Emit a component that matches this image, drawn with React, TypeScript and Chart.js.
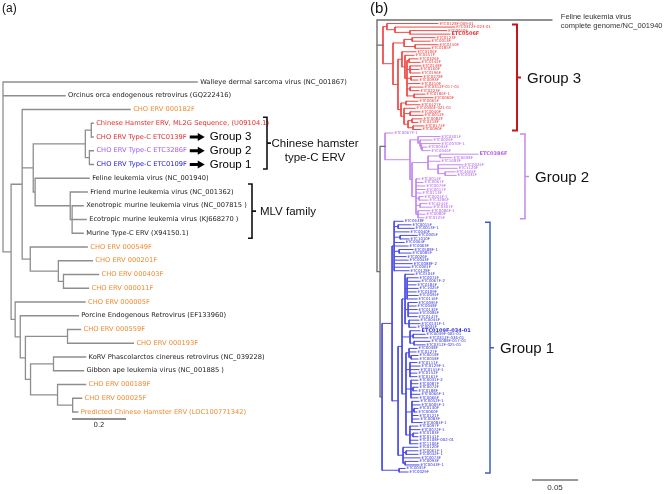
import React, { useEffect, useRef } from "react";
import { Chart, registerables } from "chart.js";
Chart.register(...registerables);

// ---------------- Panel (a) data ----------------
const labelsA = [
  "Walleye dermal sarcoma virus (NC_001867)",
  "Orcinus orca endogenous retrovirus (GQ222416)",
  "CHO ERV 000182F",
  "Chinese Hamster ERV, ML2G Sequence, (U09104.1)",
  "CHO ERV Type-C ETC0139F",
  "CHO ERV Type-C ETC3286F",
  "CHO ERV Type-C ETC0109F",
  "Feline leukemia virus (NC_001940)",
  "Friend murine leukemia virus (NC_001362)",
  "Xenotropic murine leukemia virus (NC_007815 )",
  "Ecotropic murine leukemia virus (KJ668270 )",
  "Murine Type-C ERV (X94150.1)",
  "CHO ERV 000549F",
  "CHO ERV 000201F",
  "CHO ERV 000403F",
  "CHO ERV 000011F",
  "CHO ERV 000005F",
  "Porcine Endogenous Retrovirus (EF133960)",
  "CHO ERV 000559F",
  "CHO ERV 000193F",
  "KoRV Phascolarctos cinereus retrovirus (NC_039228)",
  "Gibbon ape leukemia virus (NC_001885 )",
  "CHO ERV 000189F",
  "CHO ERV 000025F",
  "Predicted Chinese Hamster ERV (LOC100771342)",
];
const kindsA = ["ref", "ref", "cho", "g3", "g3", "g2", "g1", "ref", "ref", "ref", "ref", "ref", "cho", "cho", "cho", "cho", "cho", "ref", "cho", "cho", "ref", "ref", "cho", "cho", "cho"];
// tree of panel (a), leaves a0..a24 refer to labelsA
const newickA =
  "(a0:0.719,a1:0.230,((a2:0.400,(((a3:0.007,a4:0.007):0.022,(a5:0.015,a6:0.015):0.015):0.193,(a7:0.200,(a8:0.063,(a9:0.041,a10:0.052,a11:0.041):0.007):0.130):0.007):0.041,(a12:0.211,(a13:0.126,(a14:0.130,a15:0.093):0.019):0.104):0.030):0.041,(a16:0.259,(a17:0.215,((a18:0.048,a19:0.244):0.156,((a20:0.119,a21:0.111):0.085,(a22:0.104,(a23:0.033,a24:0.019):0.056):0.100):0.019):0.019):0.019):0.015):0.030);";
const arrowLeavesA = [4, 5, 6];
const arrowTextsA = ["Group 3", "Group 2", "Group 1"];
const cladeTextA = ["Chinese hamster", "type-C ERV"];
const mlvTextA = "MLV family";
const scaleA = 0.2;

// ---------------- Panel (b) data ----------------
const felineB = ["Feline leukemia virus", "complete genome/NC_001940"];
const felineLenB = 0.19;
const stemG3 = 0.0065;
const stemG12 = 0.0033;
const stemG2 = 0.0054;
const stemG1 = 0.0022;
const newickG3 =
  "((ETC0128F-009-01:0.0554,(ETC0312F-023-01:0.065,(ETC0050F:0.040,ETC0506F:0.0435):0.0163):0.0087):0.0043,(((ETC0123F:0.025,ETC0013F:0.0196):0.0087,(ETC0150F:0.025,ETC0185F:0.0163):0.012):0.012,((ETC0106F:0.0152,(ETC0457F:0.0098,((ETC0326F:0.0098,ETC0142F:0.012):0.0022,(ETC0148F:0.012,ETC0160F:0.0098,ETC0196F:0.0109):0.0033,(ETC0278F:0.012,ETC0093F:0.0076):0.0043,ETC0210F:0.0141,(ETC0312F-017-01:0.0141,ETC0223F:0.0098):0.0033,(ETC0186F-1:0.012,ETC0060F:0.0207):0.0076):0.0022):0.0033):0.0043,((ETC0065F:0.013,ETC0427F:0.0152):0.0054,(ETC0036F-021-01:0.012,(ETC0040F:0.0109,ETC0012F:0.0141):0.0065,((ETC0082F:0.0109,ETC0218F:0.0065):0.0043,(ETC0174F:0.012,ETC0090F:0.0087):0.0054):0.0043):0.0033):0.0033):0.0054):0.0109)";
const newickG2 =
  "(ETC0067F-1:0.0087,((ETC0301F:0.0239,(ETC0026F:0.013,(ETC0070F-1:0.0207,(ETC0034F:0.0054,ETC0046F:0.0087):0.0011):0.0011):0.0022):0.0087,(((ETC0386F:0.0413,ETC0698F:0.013):0.013,ETC1683F:0.013,(ETC0024F:0.0272,ETC1120F:0.0207,(ETC4604F:0.0109,ETC0031F:0.012):0.0076):0.0109):0.0174,(ETC0014F:0.0043,ETC0067F:0.0076,ETC0079F:0.0098,ETC0017F:0.0098,ETC0113F:0.0054,(ETC0024F-1:0.0043,ETC3286F:0.0098):0.0033,(ETC4244F:0.0076,ETC0307F:0.013):0.0043,(ETC0086F-1:0.013,ETC0080F:0.0076,ETC0125F:0.0065):0.0022):0.0043):0.0022):0.0272)";
const newickG1 =
  "((((ETC0638F:0.0098,(ETC0015F:0.0141,ETC0013F-1:0.0174):0.0043,ETC0040F:0.0163,(ETC0005F:0.0185,ETC1010F:0.0098):0.0065,ETC0064F:0.0109,ETC0063F:0.0152,(ETC0588F-1:0.0152,ETC0085F:0.013):0.0054,ETC0026F:0.013,ETC0043F:0.0152,ETC0088F-2:0.0196,ETC0061F:0.0174,ETC0128F:0.0163):0.0022," +
  "(((ETC0104F:0.0098,(ETC0074F:0.012,ETC0067F-2:0.0141,ETC0184F:0.0098,ETC1025F:0.012,ETC0109F:0.0098,ETC0094F:0.012,ETC0116F:0.0109):0.0022,(ETC0095F:0.0098,ETC0048F:0.0087,ETC0132F:0.0098,ETC0084F:0.0109,ETC0147F:0.0098):0.0033,(ETC0044F:0.0109,ETC0131F-1:0.012,ETC0034F:0.0076):0.0043):0.0033," +
  "(ETC0109F-034-01:0.0109,(ETC0039F-005-01:0.013,ETC0312F-036-01:0.0163):0.0033,(ETC0088F-017-01:0.0174,ETC0312F-025-01:0.012):0.0043):0.0087," +
  "((ETC0038F:0.0087,ETC0127F:0.0076,(ETC0018F:0.0076,ETC0058F:0.0076):0.0022):0.0033,(ETC0111F:0.0076,ETC0129F-1:0.0109,ETC0155F-1:0.0098,ETC0152F:0.0076,ETC0161F:0.0076):0.0043,(ETC0031F-2:0.0076,ETC0087F:0.0076,(ETC0072F:0.0054,ETC0188F:0.0043):0.0022,ETC0066F-1:0.0098,ETC0066F:0.0076):0.0054,(ETC0052F-1:0.0076,ETC0005F-1:0.0087,(ETC0130F:0.0043,ETC0060F:0.0033):0.0022,ETC0121F:0.0065,ETC0083F:0.0076,ETC0084F-1:0.0109):0.0065,(ETC0097F:0.0087,ETC0072F-1:0.0109,(ETC0183F:0.0054,ETC0141F:0.0054):0.0033,ETC0108F-002-01:0.0087,ETC1106F:0.0087):0.0043):0.0043):0.0043," +
  "(ETC0120F:0.0163,(ETC0061F-1:0.013,ETC0042F-1:0.013):0.0033,ETC0073F:0.0185,(ETC0093F:0.0141,ETC0043F-1:0.0152):0.0022):0.0054):0.0065):0.0109,(ETC0035F:0.0065,ETC0029F:0.0098):0.0185)";
const boldB = ["ETC0506F", "ETC0386F", "ETC0109F-034-01"];
const groupTextsB = ["Group 3", "Group 2", "Group 1"];
const scaleB = 0.05;

// ---------------- tree helpers ----------------
type TNode = { name: string; len: number; children: TNode[]; x?: number; y?: number; color?: string };

function parseNewick(s: string): TNode {
  let i = 0;
  function node(): TNode {
    const n: TNode = { name: "", len: 0, children: [] };
    if (s[i] === "(") {
      i++;
      n.children.push(node());
      while (s[i] === ",") {
        i++;
        n.children.push(node());
      }
      i++;
    }
    let name = "";
    while (i < s.length && !",():;".includes(s[i])) name += s[i++];
    n.name = name.trim();
    if (s[i] === ":") {
      i++;
      let num = "";
      while (i < s.length && !",();".includes(s[i])) num += s[i++];
      n.len = parseFloat(num);
    }
    return n;
  }
  return node();
}

function layout(root: TNode): TNode[] {
  const leaves: TNode[] = [];
  function walk(n: TNode, x: number) {
    n.x = x;
    if (!n.children.length) {
      n.y = leaves.length;
      leaves.push(n);
      return;
    }
    n.children.forEach((c) => walk(c, x + c.len));
    n.y = (n.children[0].y! + n.children[n.children.length - 1].y!) / 2;
  }
  walk(root, 0);
  return leaves;
}

function leavesOf(n: TNode): TNode[] {
  if (!n.children.length) return [n];
  return n.children.flatMap(leavesOf);
}

function segments(root: TNode, def: string) {
  const out = new Map<string, any[]>();
  const add = (c: string, x0: number, y0: number, x1: number, y1: number) => {
    if (!out.has(c)) out.set(c, []);
    out.get(c)!.push({ x: x0, y: y0 }, { x: x1, y: y1 }, { x: null, y: null });
  };
  function walk(n: TNode, inherited: string) {
    const c = n.color ?? inherited;
    if (!n.children.length) return;
    const f = n.children[0], l = n.children[n.children.length - 1];
    add(c, n.x!, f.y!, n.x!, l.y!);
    n.children.forEach((ch) => {
      add(c, n.x!, ch.y!, ch.x!, ch.y!);
      walk(ch, c);
    });
  }
  walk(root, def);
  return out;
}

// ---------------- styles ----------------
const W = 667, H = 494;
const rootPxA = 3, unitPxA = 270, firstYA = 82, stepA = 13.75;
const rootPxB = 377, unitPxB = 920, firstYB = 20, lastYB = 472;
const labelColorA: Record<string, string> = { ref: "#222222", cho: "#ee8a30", g3: "#e62a2a", g2: "#9d5cf2", g1: "#2222d8" };
const lineColorB: Record<string, string> = { root: "#6e6e6e", g3: "#ee4a46", g2: "#c38bef", g1: "#4b4be6" };
const labelColorB: Record<string, string> = { g3: "#ec3535", g2: "#b061e8", g1: "#3434dc" };
const SANS = '"Liberation Sans", Arial, sans-serif';
const SMALL = '"DejaVu Sans", sans-serif';

export default function App() {
  const ref = useRef<HTMLCanvasElement>(null);
  useEffect(() => {
    const treeA = parseNewick(newickA);
    const leavesA = layout(treeA);

    const g3 = parseNewick(newickG3); g3.len = stemG3; g3.color = "g3";
    const g2 = parseNewick(newickG2); g2.len = stemG2; g2.color = "g2";
    const g1 = parseNewick(newickG1); g1.len = stemG1; g1.color = "g1";
    const feline: TNode = { name: "feline", len: felineLenB, children: [] };
    const g12: TNode = { name: "", len: stemG12, children: [g2, g1], color: "root" };
    const treeB: TNode = { name: "", len: 0, children: [feline, g3, g12], color: "root" };
    const leavesB = layout(treeB);
    const groupsB = [g3, g2, g1].map((g) => leavesOf(g));
    const stepB = (lastYB - firstYB) / (leavesB.length - 1);

    const datasets: any[] = [];
    segments(treeA, "gray").forEach((data) => {
      datasets.push({ data, showLine: true, borderColor: "#8e8e8e", borderWidth: 1.3, pointRadius: 0, borderCapStyle: "square", xAxisID: "xa", yAxisID: "ya" });
    });
    segments(treeB, "root").forEach((data, key) => {
      datasets.push({ data, showLine: true, borderColor: lineColorB[key], borderWidth: key === "root" ? 1.4 : 1, pointRadius: 0, borderCapStyle: "square", xAxisID: "xb", yAxisID: "yb" });
    });

    const textPlugin = {
      id: "treeText",
      afterDatasetsDraw(chart: any) {
        const ctx: CanvasRenderingContext2D = chart.ctx;
        const { xa, ya, xb, yb } = chart.scales;
        ctx.save();
        ctx.textBaseline = "middle";
        ctx.textAlign = "left";
        ctx.fillStyle = "#111";
        ctx.font = `12px ${SANS}`;
        ctx.fillText("(a)", 2, 9);
        ctx.font = `15px ${SANS}`;
        ctx.fillText("(b)", 370, 9);

        // ---- panel (a) labels
        ctx.font = `6.7px ${SMALL}`;
        const labelX: number[] = [];
        leavesA.forEach((lf) => {
          const i = parseInt(lf.name.slice(1));
          const px = xa.getPixelForValue(lf.x) + 3;
          labelX[i] = px;
          ctx.fillStyle = labelColorA[kindsA[i]];
          ctx.fillText(labelsA[i], px, ya.getPixelForValue(lf.y));
        });
        const yA = (i: number) => ya.getPixelForValue(i);
        // arrows
        let endMax = 0;
        arrowLeavesA.forEach((i) => { endMax = Math.max(endMax, labelX[i] + ctx.measureText(labelsA[i]).width); });
        const ax0 = endMax + 3, ax1 = ax0 + 15;
        ctx.fillStyle = "#000";
        arrowLeavesA.forEach((i, k) => {
          const y = yA(i);
          ctx.fillRect(ax0, y - 1.5, 9, 3);
          ctx.beginPath();
          ctx.moveTo(ax0 + 8, y - 4);
          ctx.lineTo(ax1, y);
          ctx.lineTo(ax0 + 8, y + 4);
          ctx.closePath();
          ctx.fill();
          ctx.font = `11.5px ${SANS}`;
          ctx.fillText(arrowTextsA[k], ax1 + 5, y);
        });
        const bracket = (x: number, top: number, bot: number, color: string, lw: number, tl: number, tr: number) => {
          ctx.strokeStyle = color;
          ctx.lineWidth = lw;
          ctx.beginPath();
          ctx.moveTo(x - tl, top);
          ctx.lineTo(x, top);
          ctx.lineTo(x, bot);
          ctx.lineTo(x - tl, bot);
          ctx.moveTo(x, (top + bot) / 2);
          ctx.lineTo(x + tr, (top + bot) / 2);
          ctx.stroke();
          return (top + bot) / 2;
        };
        // Chinese hamster type-C bracket
        const m1 = bracket(267, yA(3) - 6, yA(6) + 4.5, "#111", 1.6, 4, 4);
        ctx.fillStyle = "#111";
        ctx.font = `11.5px ${SANS}`;
        ctx.textAlign = "center";
        ctx.fillText(cladeTextA[0], 315, m1 + 1);
        ctx.fillText(cladeTextA[1], 315, m1 + 15);
        ctx.textAlign = "left";
        // MLV bracket
        const m2 = bracket(252, yA(8) - 8, yA(11) + 5, "#111", 1.6, 4, 4);
        ctx.fillText(mlvTextA, 260, m2 + 1);
        // scale bar (a)
        const sbY = yA(leavesA.length - 1 + 0.5);
        const sbX0 = xa.getPixelForValue(0.2556), sbX1 = xa.getPixelForValue(0.2556 + scaleA);
        ctx.strokeStyle = "#8e8e8e";
        ctx.lineWidth = 2;
        ctx.beginPath();
        ctx.moveTo(sbX0, sbY);
        ctx.lineTo(sbX1, sbY);
        ctx.stroke();
        ctx.fillStyle = "#333";
        ctx.font = `7px ${SMALL}`;
        ctx.textAlign = "center";
        ctx.fillText(String(scaleA), (sbX0 + sbX1) / 2, sbY + 6);
        ctx.textAlign = "left";

        // ---- panel (b) labels
        const yB = (v: number) => yb.getPixelForValue(v);
        const fl = leavesB[0];
        const fx = xb.getPixelForValue(fl.x) + 9;
        ctx.fillStyle = "#333";
        ctx.font = `7.5px ${SANS}`;
        ctx.fillText(felineB[0], fx, yB(fl.y) - 3.5);
        ctx.fillText(felineB[1], fx, yB(fl.y) + 5.5);
        const keys = ["g3", "g2", "g1"];
        groupsB.forEach((lvs, gi) => {
          ctx.fillStyle = labelColorB[keys[gi]];
          lvs.forEach((lf) => {
            const bold = boldB.includes(lf.name);
            ctx.font = bold ? `bold 5px ${SMALL}` : `3.9px ${SMALL}`;
            ctx.fillText(lf.name, xb.getPixelForValue(lf.x) + 1.5, yB(lf.y));
          });
        });
        const bx = [517, 525, 490];
        const bc = ["#c4161c", "#c58be6", "#3c5fc4"];
        const bw = [2, 1.5, 1.5];
        groupsB.forEach((lvs, gi) => {
          const top = yB(lvs[0].y!) + 1;
          const bot = yB(lvs[lvs.length - 1].y!) + 1;
          const m = bracket(bx[gi], top, bot, bc[gi], bw[gi], 5, 4);
          ctx.fillStyle = "#111";
          ctx.font = `15px ${SANS}`;
          ctx.fillText(groupTextsB[gi], bx[gi] + 10, m + 1);
        });
        // scale bar (b)
        const sY = yB(leavesB.length - 1) + 8;
        const s0 = xb.getPixelForValue(0.1685), s1 = xb.getPixelForValue(0.1685 + scaleB);
        ctx.strokeStyle = "#333";
        ctx.lineWidth = 1;
        ctx.beginPath();
        ctx.moveTo(s0, sY);
        ctx.lineTo(s1, sY);
        ctx.stroke();
        ctx.fillStyle = "#333";
        ctx.font = `8px ${SANS}`;
        ctx.textAlign = "center";
        ctx.fillText(String(scaleB), (s0 + s1) / 2, sY + 8);
        ctx.restore();
      },
    };

    const chart = new Chart(ref.current!, {
      type: "scatter",
      data: { datasets },
      options: {
        animation: false,
        responsive: true,
        maintainAspectRatio: false,
        events: [],
        layout: { padding: 0 },
        plugins: { legend: { display: false }, tooltip: { enabled: false } },
        scales: {
          xa: { type: "linear", axis: "x", display: false, min: -rootPxA / unitPxA, max: (W - rootPxA) / unitPxA },
          ya: { type: "linear", axis: "y", display: false, reverse: true, min: -firstYA / stepA, max: (H - firstYA) / stepA },
          xb: { type: "linear", axis: "x", display: false, min: -rootPxB / unitPxB, max: (W - rootPxB) / unitPxB },
          yb: { type: "linear", axis: "y", display: false, reverse: true, min: -firstYB / stepB, max: (H - firstYB) / stepB },
        },
      } as any,
      plugins: [textPlugin],
    });
    return () => chart.destroy();
  }, []);
  return (
    <div style={{ position: "absolute", left: 0, top: 0, width: W, height: H, background: "#fff" }}>
      <canvas ref={ref} />
    </div>
  );
}
